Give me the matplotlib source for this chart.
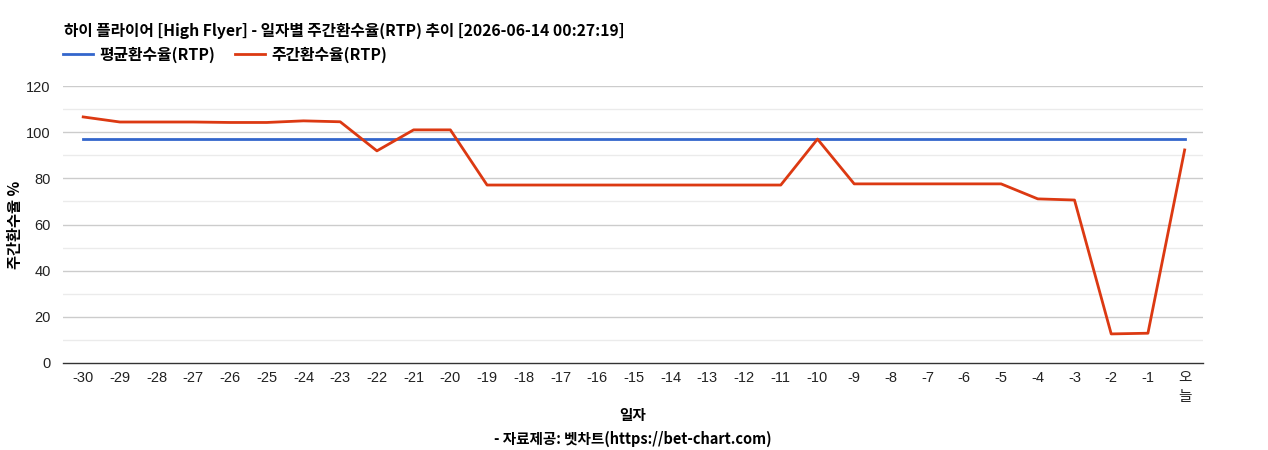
import matplotlib
matplotlib.use("Agg")
import matplotlib.pyplot as plt
from matplotlib.lines import Line2D

plt.rcParams['font.family'] = ['Liberation Sans', 'Noto Sans CJK KR', 'DejaVu Sans']

days = list(range(-30, 1))
tick_labels = [str(d) for d in range(-30, 0)] + ["오\n늘"]
weekly_rtp = [106.6, 104.4, 104.4, 104.4, 104.2, 104.2, 104.9, 104.5, 91.9, 101.0, 101.0,
              77.1, 77.1, 77.1, 77.1, 77.1, 77.1, 77.1, 77.1, 77.1, 97.0,
              77.6, 77.6, 77.6, 77.6, 77.6, 71.1, 70.6, 12.6, 12.9, 92.3]
avg_rtp = [97.0] * len(days)

title = "하이 플라이어 [High Flyer] - 일자별 주간환수율(RTP) 추이 [2026-06-14 00:27:19]"
series_names = ["평균환수율(RTP)", "주간환수율(RTP)"]
blue = "#3366cc"
red = "#dc3912"
cjk = ['Noto Sans CJK KR', 'DejaVu Sans']

fig = plt.figure(figsize=(12.68, 4.5), dpi=100)
ax = fig.add_axes([63/1268, 1-363/450, (1203-63)/1268, (363-86)/450])

for y in range(10, 121, 10):
    ax.axhline(y, color="#cccccc" if y % 20 == 0 else "#ebebeb", lw=1, zorder=0)

ax.plot(days, avg_rtp, color=blue, lw=2, zorder=3)
ax.plot(days, weekly_rtp, color=red, lw=2, zorder=4)

ax.set_xlim(-30.55, 0.5)
ax.set_ylim(0, 120)
ax.set_yticks(range(0, 121, 20))
ax.set_xticks(days)
ax.set_xticklabels(tick_labels, va="top", linespacing=1.45)
ax.tick_params(axis="both", length=0, labelsize=10.5, colors="#222222")
ax.tick_params(axis="x", pad=6)
ax.tick_params(axis="y", pad=9)
for s in ["top", "right", "left"]:
    ax.spines[s].set_visible(False)
ax.spines["bottom"].set_color("#333333")
ax.spines["bottom"].set_linewidth(1)

fig.text(64/1268, 1-31/450, title, fontsize=11.3, fontweight="bold", va="center", ha="left",
         family=cjk)

handles = [Line2D([], [], color=blue, lw=2), Line2D([], [], color=red, lw=2)]
leg = fig.legend(handles, series_names, loc="center left", bbox_to_anchor=(63/1268, 1-55/450),
                 ncol=2, frameon=False, borderpad=0, borderaxespad=0,
                 handlelength=1.9, handletextpad=0.4, columnspacing=1.25,
                 prop={'family': cjk, 'weight': 'bold', 'size': 11.4})

fig.text(15/1268, 1-225/450, "주간환수율 %", rotation=90, fontsize=11, fontweight="bold",
         va="center", ha="center", family=cjk)
fig.text(633/1268, 1-415/450, "일자", fontsize=10.5, fontweight="bold", va="center", ha="center",
         family=cjk)
fig.text(633/1268, 1-439/450, "- 자료제공: 벳차트(https://bet-chart.com)", fontsize=10.5,
         fontweight="bold", va="center", ha="center", family=cjk)

fig.savefig("out.png", dpi=100)
